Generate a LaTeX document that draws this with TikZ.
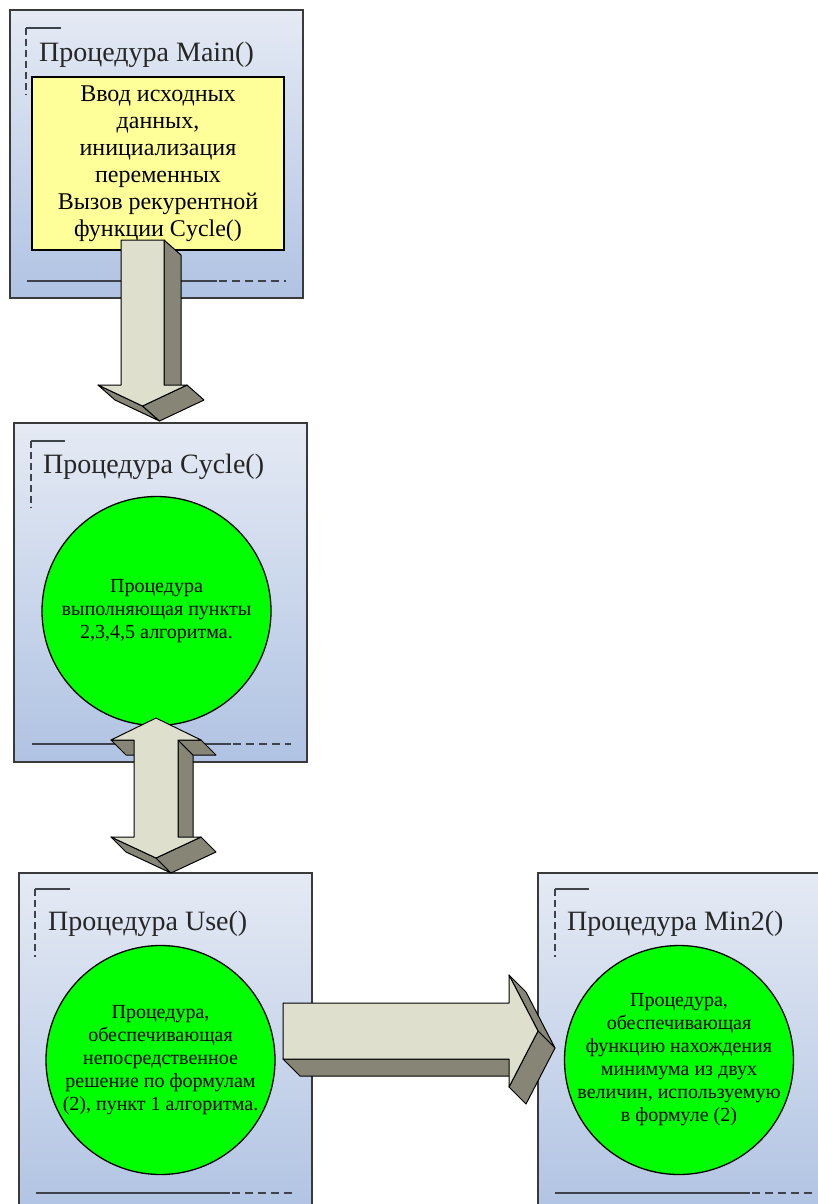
\documentclass[tikz,border=0pt]{standalone}
\usepackage{fontspec}
\setmainfont{Liberation Serif}
\definecolor{boxtop}{RGB}{229,234,244}
\definecolor{boxbot}{RGB}{176,195,227}
\definecolor{boxedge}{RGB}{58,58,58}
\definecolor{markc}{RGB}{62,66,74}
\definecolor{yel}{RGB}{255,255,153}
\definecolor{grn}{RGB}{0,255,0}
\definecolor{arrfront}{RGB}{222,223,204}
\definecolor{arrside}{RGB}{134,133,118}
\begin{document}
\begin{tikzpicture}[x=1pt,y=-1pt,
  procbox/.style={draw=boxedge, line width=1.8pt, top color=boxtop, bottom color=boxbot,
    rectangle, inner sep=0pt, outer sep=0pt, anchor=north west},
  ptitle/.style={anchor=base west, inner sep=0pt, font=\fontsize{28}{32}\selectfont, text=black!85},
  cornermark/.style={draw=markc, line width=2.2pt},
  dashmark/.style={draw=markc, line width=2.2pt, dash pattern=on 7pt off 4pt},
  baseline/.style={draw=markc, line width=2.6pt},
  basedash/.style={draw=markc, line width=2.6pt, dash pattern=on 8pt off 5pt},
  greencirc/.style={circle, minimum size=229pt, fill=grn, draw=black, line width=1.3pt,
    align=center, inner sep=-40pt, font=\fontsize{20}{23}\selectfont},
  yellowbox/.style={rectangle, draw=black, fill=yel, line width=1.3pt, minimum width=252pt,
    minimum height=173pt, align=center, inner sep=0pt, font=\fontsize{24}{27}\selectfont},
  arrfrontface/.style={fill=arrfront, draw=black, line width=1pt, line join=round},
  arrsideface/.style={fill=arrside, draw=black, line width=1pt, line join=round}
]
\useasboundingbox (0,0) rectangle (818,1204);
\clip (0,0) rectangle (818,1204);
\fill[white] (0,0) rectangle (818,1204);

% boxes
\node[procbox, minimum width=293pt, minimum height=288pt] (main) at (10,10) {};
\node[procbox, minimum width=293pt, minimum height=339pt] (cycle) at (14,423) {};
\node[procbox, minimum width=293pt, minimum height=345pt] (use) at (19,873) {};
\node[procbox, minimum width=300pt, minimum height=345pt] (min2) at (538,873) {};

% titles
\node[ptitle] (tmain) at (39,62) {Процедура Main()};
\node[ptitle] (tcycle) at (43,473) {Процедура Cycle()};
\node[ptitle] (tuse) at (48,930) {Процедура Use()};
\node[ptitle] (tmin2) at (567,930) {Процедура Min2()};

% corner marks
\draw[cornermark] (26,28) -- (61,28);
\draw[dashmark] (26,28) -- (26,95);
\draw[cornermark] (31,441) -- (65,441);
\draw[dashmark] (31,441) -- (31,508);
\draw[cornermark] (35,889) -- (70,889);
\draw[dashmark] (35,889) -- (35,957);
\draw[cornermark] (555,889) -- (589,889);
\draw[dashmark] (555,889) -- (555,957);

% bottom lines
\draw[baseline] (27,281) -- (217,281);
\draw[basedash] (219,281) -- (286,281);
\draw[baseline] (32,744) -- (231,744);
\draw[basedash] (233,744) -- (291,744);
\draw[baseline] (36,1193) -- (230,1193);
\draw[basedash] (232,1193) -- (294,1193);
\draw[baseline] (555,1193) -- (750,1193);
\draw[basedash] (752,1193) -- (814,1193);

% contents
\node[yellowbox] (ymain) at (158,163.5) {Ввод исходных\\данных,\\инициализация\\переменных\\Вызов рекурентной\\функции Cycle()};
\node[greencirc] (ccycle) at (156.5,611) {Процедура\\выполняющая пункты\\2,3,4,5 алгоритма.};
\node[greencirc] (cuse) at (160.5,1060) {Процедура,\\обеспечивающая\\непосредственное\\решение по формулам\\(2), пункт 1 алгоритма.};
\node[greencirc] (cmin2) at (679,1060) {Процедура,\\обеспечивающая\\функцию нахождения\\минимума из двух\\величин, используемую\\в формуле (2)};

% arrow anchors
\coordinate (a1) at (142.5,240);
\coordinate (a2) at (156,718);
\coordinate (a3) at (283,1031);

% arrow 1: Main -> Cycle
\begin{scope}[shift={(a1)}]
  \filldraw[arrsideface] (21.5,0) -- (38.5,15) -- (38.5,160) -- (21.5,145) -- cycle;
  \filldraw[arrsideface] (-44.5,145) -- (0,166) -- (17,181) -- (-27.5,160) -- cycle;
  \filldraw[arrsideface] (44.5,145) -- (0,166) -- (17,181) -- (61.5,160) -- cycle;
  \filldraw[arrfrontface] (-21.5,0) -- (21.5,0) -- (21.5,145) -- (44.5,145) -- (0,166)
     -- (-44.5,145) -- (-21.5,145) -- cycle;
\end{scope}

% arrow 2: Cycle <-> Use
\begin{scope}[shift={(a2)}]
  \filldraw[arrsideface] (22,22) -- (37,37) -- (37,134) -- (22,119) -- cycle;
  \filldraw[arrsideface] (-45,22) -- (-22,22) -- (-7,37) -- (-30,37) -- cycle;
  \filldraw[arrsideface] (22,22) -- (45,22) -- (60,37) -- (37,37) -- cycle;
  \filldraw[arrsideface] (-45,119) -- (0,140) -- (15,155) -- (-30,134) -- cycle;
  \filldraw[arrsideface] (45,119) -- (0,140) -- (15,155) -- (60,134) -- cycle;
  \filldraw[arrfrontface] (0,0) -- (45,22) -- (22,22) -- (22,119) -- (45,119) -- (0,140)
     -- (-45,119) -- (-22,119) -- (-22,22) -- (-45,22) -- cycle;
\end{scope}

% arrow 3: Use -> Min2
\begin{scope}[shift={(a3)}]
  \filldraw[arrsideface] (0,28) -- (226,28) -- (243,45) -- (17,45) -- cycle;
  \filldraw[arrsideface] (226,-56) -- (255,0) -- (272,17) -- (243,-39) -- cycle;
  \filldraw[arrsideface] (255,0) -- (226,56) -- (243,73) -- (272,17) -- cycle;
  \filldraw[arrfrontface] (0,-28) -- (226,-28) -- (226,-56) -- (255,0) -- (226,56)
     -- (226,28) -- (0,28) -- cycle;
\end{scope}
\end{tikzpicture}
\end{document}
